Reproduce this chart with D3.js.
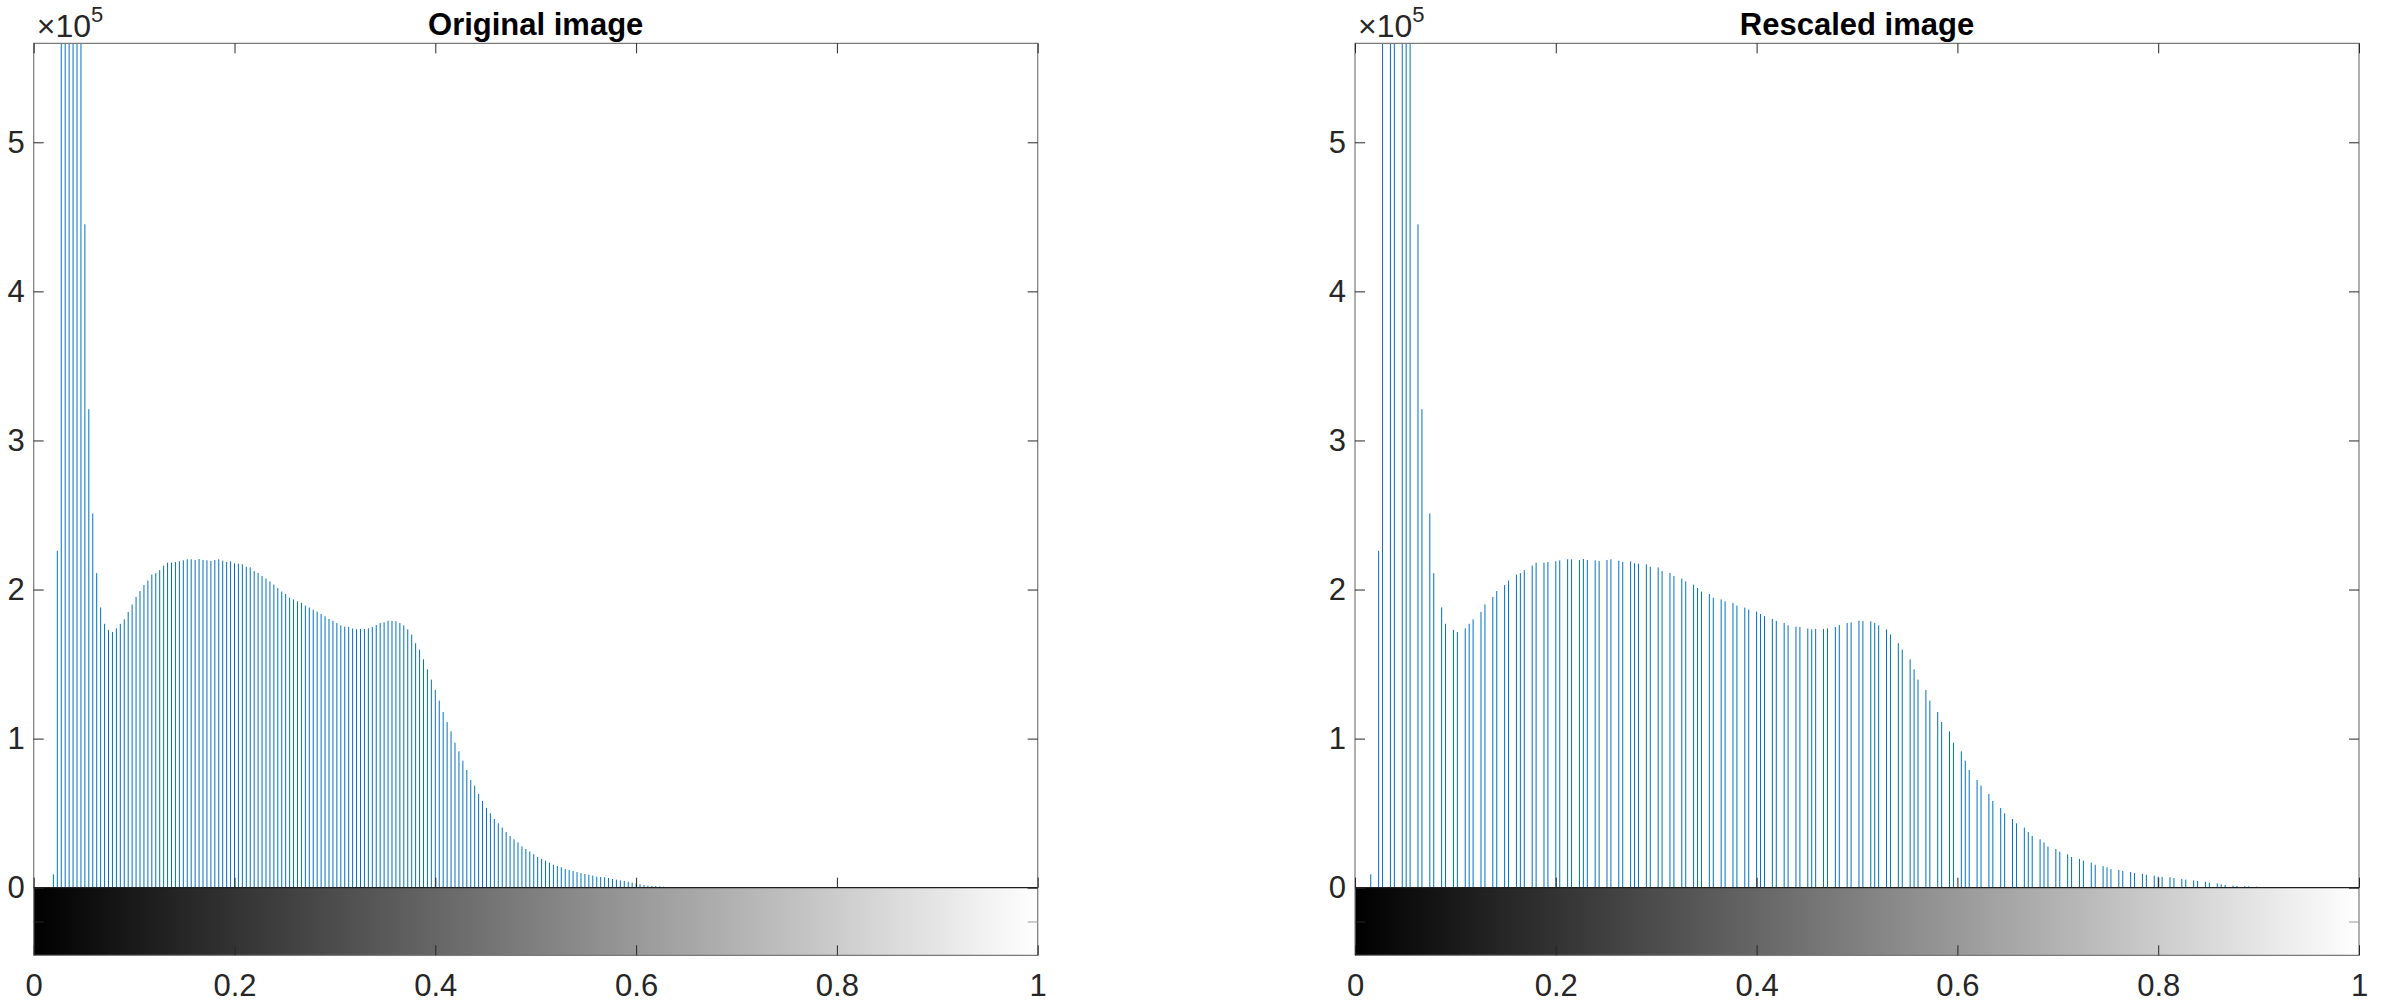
<!DOCTYPE html>
<html><head><meta charset="utf-8">
<script src="https://cdn.jsdelivr.net/npm/d3@7"></script>
<style>
html,body{margin:0;padding:0;background:#fff;}
svg{display:block;font-family:"Liberation Sans",Arial,Helvetica,sans-serif;}
</style>
</head><body>
<svg id="chart" width="2383" height="1005"></svg>
<script>
// ---------- data ----------
const panelTitles = ["Original image", "Rescaled image"];
// gray-level bin index (0..255) of each stem, original image
const originalBins = d3.range(5, 163);
// gray-level bin index of each stem after rescaling
const rescaledBins = [
  4,6,7,9,10,12,13,14,16,17,
  19,20,22,23,25,26,28,29,30,32,
  33,35,36,38,39,41,42,43,45,46,
  48,49,51,52,54,55,57,58,59,61,
  62,64,65,67,68,70,71,72,74,75,
  77,78,80,81,83,84,86,87,88,90,
  91,93,94,96,97,99,100,102,103,104,
  106,107,109,110,112,113,115,116,117,119,
  120,122,123,125,126,128,129,131,132,133,
  135,136,138,
  139,141,142,143,145,146,148,149,151,152,154,155,156,158,159,161,162,164,165,167,168,170,171,172,174,175,
  176,178,179,181,182,184,185,187,188,190,191,192,194,195,197,198,200,201,203,204,205,207,208,210,211,213,214,216,217,219,220,221,223,224,226,227,229,230,232
];
// pixel counts per stem, in units of 10^5 (same counts in both histograms)
const pixelCounts = [
  0.09, 2.26, 6.3, 7.8, 8.6, 8.2, 7.1, 5.9, 4.45, 3.21,
  2.51, 2.11, 1.88, 1.77, 1.73, 1.715, 1.74, 1.77, 1.80, 1.85,
  1.90, 1.95, 1.99, 2.03, 2.06, 2.10, 2.11, 2.13, 2.16, 2.18,
  2.18, 2.185, 2.19, 2.196, 2.203, 2.203, 2.198, 2.205, 2.198, 2.196,
  2.192, 2.198, 2.203, 2.194, 2.185, 2.189, 2.176, 2.173, 2.169, 2.153,
  2.149, 2.124, 2.111, 2.091, 2.073, 2.055, 2.033, 2.010, 1.986, 1.970,
  1.945, 1.934, 1.921, 1.910, 1.892, 1.879, 1.865, 1.852, 1.836, 1.821,
  1.803, 1.790, 1.776, 1.760, 1.751, 1.749, 1.738, 1.733, 1.736, 1.736,
  1.740, 1.749, 1.762, 1.776, 1.780, 1.791, 1.789, 1.787, 1.776, 1.760,
  1.733, 1.698, 1.640, 1.597, 1.532, 1.465, 1.396, 1.327, 1.255, 1.179,
  1.112, 1.049, 0.973, 0.915, 0.852, 0.790, 0.722, 0.685, 0.629, 0.582,
  0.535, 0.499, 0.461, 0.432, 0.403, 0.374, 0.347, 0.325, 0.304, 0.277,
  0.260, 0.242, 0.224, 0.206, 0.193, 0.181, 0.168, 0.154, 0.145, 0.137,
  0.125, 0.119, 0.112, 0.105, 0.098, 0.092, 0.087, 0.081, 0.074, 0.072,
  0.070, 0.065, 0.058, 0.054, 0.049, 0.045, 0.040, 0.034, 0.029, 0.023,
  0.018, 0.014, 0.011, 0.011, 0.009, 0.007, 0.005, 0.003
];
const yTickValues = [0, 1, 2, 3, 4, 5];
const xTickValues = [0, 0.2, 0.4, 0.6, 0.8, 1];
const xTickLabels = ["0", "0.2", "0.4", "0.6", "0.8", "1"];
const yMax = 5.664;       // upper y limit, x10^5
const maxLevel = 255;
const exponentLabel = {base: "\u00d710", exp: "5"};

// ---------- layout ----------
const panelLefts = [33.7, 1355];
const plotW = 1004;
const plotTop = 43.3, zeroY = 887.7, cbBottom = 955.3;
const tickLen = 10;
const inkColor = "#262626", boxColor = "#7a7a7a", stemColor = "#0072BD";

const svg = d3.select("#chart");
const defs = svg.append("defs");

const panelsData = [
  {title: panelTitles[0], bins: originalBins, counts: pixelCounts},
  {title: panelTitles[1], bins: rescaledBins, counts: pixelCounts}
];

panelsData.forEach((p, i) => {
  const L = panelLefts[i], R = L + plotW;
  const x = d3.scaleLinear().domain([0, 1]).range([L, R]);
  const y = d3.scaleLinear().domain([0, yMax]).range([zeroY, plotTop]);
  const cbY = d3.scaleLinear().domain([0, 1]).range([cbBottom, zeroY]);
  const g = svg.append("g");

  defs.append("clipPath").attr("id", "clip" + i)
    .append("rect").attr("x", L).attr("y", plotTop).attr("width", plotW).attr("height", zeroY - plotTop);

  const grad = defs.append("linearGradient").attr("id", "grad" + i)
    .attr("gradientUnits", "userSpaceOnUse")
    .attr("x1", x(0)).attr("x2", x(1)).attr("y1", 0).attr("y2", 0);
  grad.append("stop").attr("offset", 0).attr("stop-color", "#000");
  grad.append("stop").attr("offset", 1).attr("stop-color", "#fff");
  g.append("rect").attr("x", x(0)).attr("y", zeroY).attr("width", x(1) - x(0)).attr("height", cbBottom - zeroY)
    .attr("fill", "url(#grad" + i + ")");

  const stems = p.bins.map((b, k) => ({b, v: p.counts[k]}));
  g.append("g").attr("clip-path", "url(#clip" + i + ")")
    .selectAll("line").data(stems).join("line")
    .attr("x1", d => x(d.b / maxLevel)).attr("x2", d => x(d.b / maxLevel))
    .attr("y1", y(0)).attr("y2", d => y(d.v))
    .attr("stroke", stemColor).attr("stroke-width", 1);

  g.append("path")
    .attr("d", `M${L},${cbBottom}V${plotTop}H${R}V${cbBottom}H${L}`)
    .attr("fill", "none").attr("stroke", boxColor).attr("stroke-width", 1.2);
  g.append("line").attr("x1", L).attr("x2", R).attr("y1", zeroY).attr("y2", zeroY)
    .attr("stroke", "#1f1f1f").attr("stroke-width", 1.3);

  const styleAxis = sel => {
    sel.select(".domain").remove();
    sel.selectAll(".tick line").attr("stroke", inkColor).attr("stroke-width", 1);
    sel.selectAll(".tick text").attr("fill", inkColor).attr("font-size", 31)
      .attr("font-family", "'Liberation Sans', Arial, sans-serif");
  };

  g.append("g").attr("transform", `translate(${L},0)`)
    .call(d3.axisLeft(y).tickValues(yTickValues).tickFormat(d3.format("d"))
      .tickSizeInner(-tickLen).tickSizeOuter(0).tickPadding(9))
    .call(styleAxis);
  g.append("g").attr("transform", `translate(${R},0)`)
    .call(d3.axisRight(y).tickValues(yTickValues).tickFormat("")
      .tickSizeInner(-tickLen).tickSizeOuter(0))
    .call(styleAxis);
  g.append("g").attr("transform", `translate(${L},0)`)
    .call(d3.axisLeft(cbY).tickValues([0.5]).tickFormat("").tickSizeInner(-tickLen).tickSizeOuter(0))
    .call(styleAxis);
  g.append("g").attr("transform", `translate(${R},0)`)
    .call(d3.axisRight(cbY).tickValues([0.5]).tickFormat("").tickSizeInner(-tickLen).tickSizeOuter(0))
    .call(styleAxis)
    .selectAll(".tick line").attr("stroke", "#999");

  g.append("g").attr("transform", `translate(0,${plotTop})`)
    .call(d3.axisTop(x).tickValues(xTickValues).tickFormat("").tickSizeInner(-tickLen).tickSizeOuter(0))
    .call(styleAxis);
  g.append("g").attr("transform", `translate(0,${zeroY})`)
    .call(d3.axisBottom(x).tickValues(xTickValues).tickFormat("").tickSizeInner(-tickLen).tickSizeOuter(0))
    .call(styleAxis);
  g.append("g").attr("transform", `translate(0,${cbBottom})`)
    .call(d3.axisBottom(x).tickValues(xTickValues).tickFormat((d, k) => xTickLabels[k])
      .tickSizeInner(-tickLen).tickSizeOuter(0).tickPadding(19))
    .call(styleAxis);

  const ex = g.append("text").attr("x", L + 3).attr("y", 37)
    .attr("fill", inkColor).attr("font-size", 32);
  ex.append("tspan").text(exponentLabel.base);
  ex.append("tspan").attr("dy", -15).attr("font-size", 22).text(exponentLabel.exp);

  g.append("text").attr("x", (L + R) / 2).attr("y", 35)
    .attr("text-anchor", "middle").attr("font-weight", "bold").attr("font-size", 31)
    .attr("fill", "#000").text(p.title);
});
</script>
</body></html>
